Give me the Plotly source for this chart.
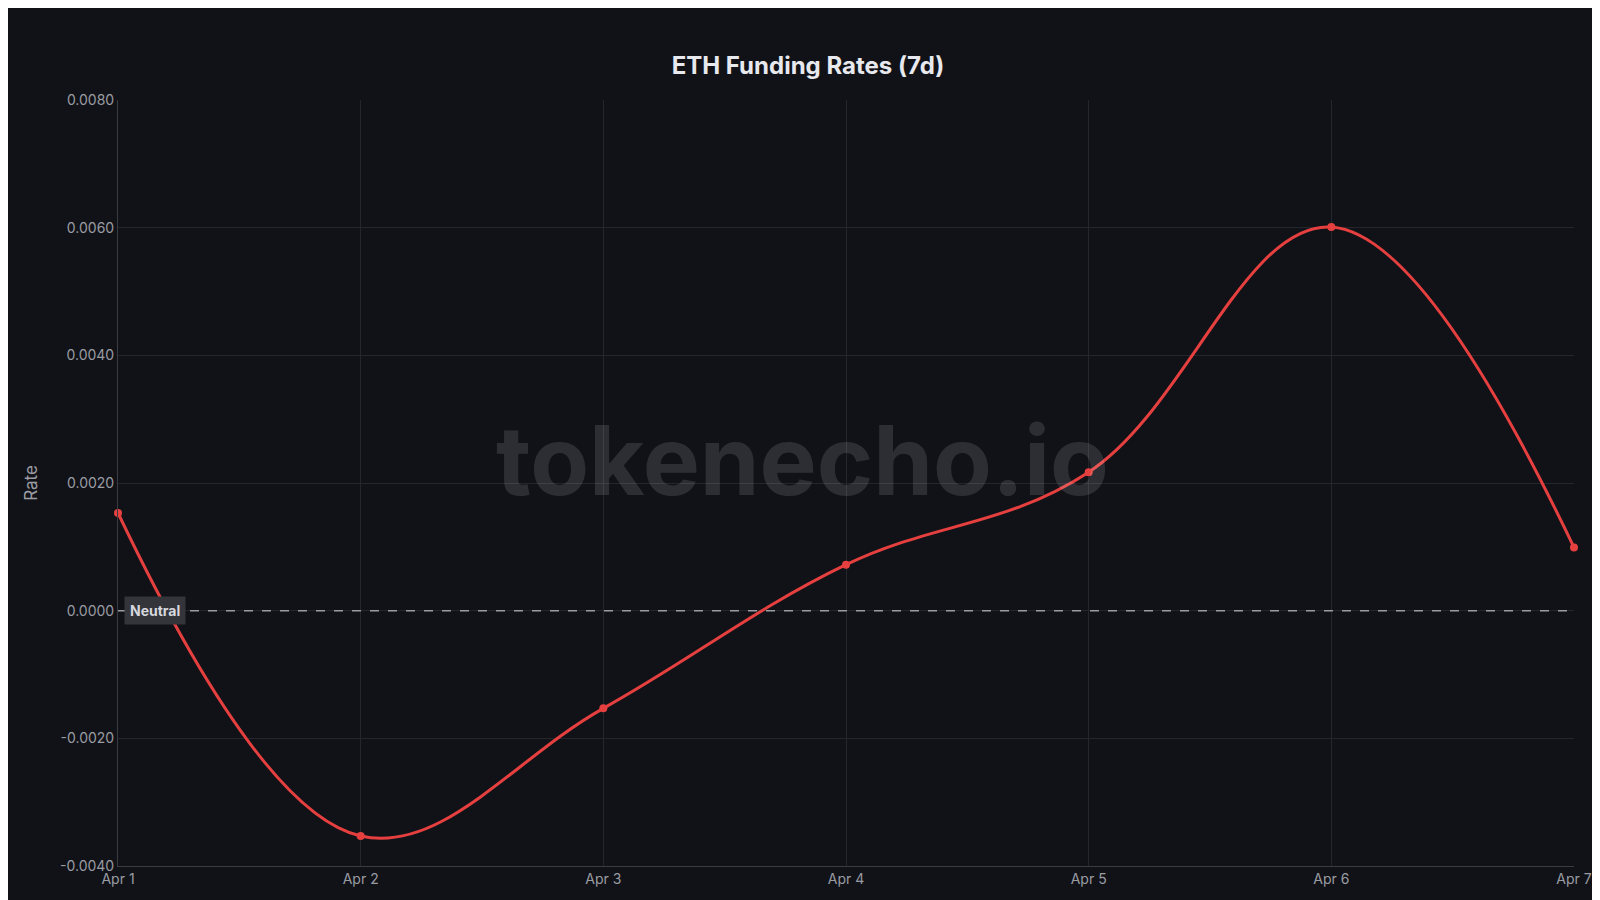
import plotly.graph_objects as go

dates = ["2024-04-01","2024-04-02","2024-04-03","2024-04-04","2024-04-05","2024-04-06","2024-04-07"]
rates = [0.00153, -0.00353, -0.00153, 0.00072, 0.00217, 0.00601, 0.00099]
tick_vals = [-0.004,-0.002,0,0.002,0.004,0.006,0.008]
tick_text = ["-0.0040","-0.0020","0.0000","0.0020","0.0040","0.0060","0.0080"]
x_ticks = dates
x_text = ["Apr 1","Apr 2","Apr 3","Apr 4","Apr 5","Apr 6","Apr 7"]

bg = "#111217"
fig = go.Figure(go.Scatter(
    x=dates, y=rates, mode="lines+markers", cliponaxis=False,
    line=dict(color="#e5403f", width=3, shape="spline", smoothing=1.1),
    marker=dict(color="#e5403f", size=8), showlegend=False))

fig.add_hline(y=0, line=dict(color="#9a9ca3", width=1.5, dash="dash"))
fig.add_annotation(x=dates[0], y=0, xref="x", yref="y", text="<b>Neutral</b>",
                   showarrow=False, xanchor="left", xshift=6,
                   font=dict(color="#d8d9de", size=14), bgcolor="#33353b",
                   borderpad=5)
fig.add_annotation(x=0.47, y=0.53, xref="paper", yref="paper", text="<b>tokenecho.io</b>",
                   showarrow=False, font=dict(size=96, color="rgba(255,255,255,0.12)"))

fig.update_layout(
    width=1600, height=900, paper_bgcolor=bg, plot_bgcolor=bg,
    font=dict(family="Inter, Liberation Sans, sans-serif", color="#9a9ca3", size=14),
    title=dict(text="<b>ETH Funding Rates (7d)</b>", x=0.5, y=0.945, xanchor="center",
               font=dict(size=24, color="#e8e9ee")),
    margin=dict(l=110, r=34, t=92, b=42),
    xaxis=dict(tickvals=x_ticks, ticktext=x_text, range=[dates[0], dates[-1]],
               showgrid=True, gridcolor="#24262c", zeroline=False,
               showline=True, linecolor="#3a3c42", ticks=""),
    yaxis=dict(tickvals=tick_vals, ticktext=tick_text, range=[-0.004, 0.008],
               showgrid=True, gridcolor="#24262c", zeroline=False,
               showline=True, linecolor="#3a3c42", title=dict(text="Rate", standoff=18)),
)
fig.write_html("out.html")
